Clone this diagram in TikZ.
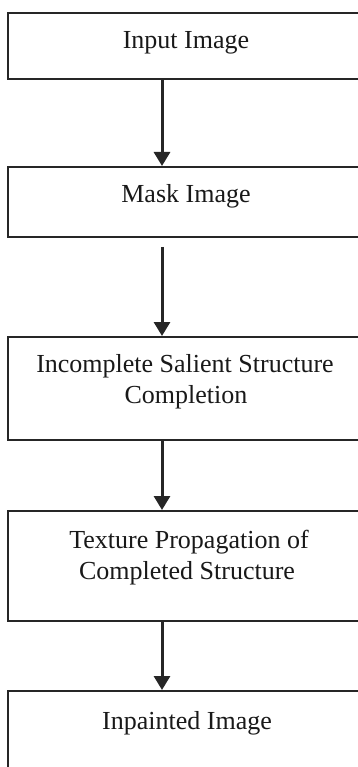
\documentclass[tikz,border=0pt]{standalone}
\usepackage{fontspec}
\setmainfont{Liberation Serif}
\usetikzlibrary{arrows.meta}
\begin{document}
\begin{tikzpicture}[x=1pt,y=1pt,
  box/.style={draw=black!85, line width=1.8pt, rectangle, inner sep=0pt, minimum width=356pt, anchor=north},
  lbl/.style={anchor=base, inner sep=0pt, font=\fontsize{26}{31}\selectfont, text=black!90},
  arr/.style={line width=3pt, draw=black!85, -{Triangle[width=16pt,length=14pt]}}]
\useasboundingbox (0,0) rectangle (358,-767);
\fill[white] (0,0) rectangle (358,-767);
\node[box, minimum height=66pt]  (b1) at (186,-12) {};
\node[box, minimum height=70pt]  (b2) at (186,-166) {};
\node[box, minimum height=103pt] (b3) at (186,-336) {};
\node[box, minimum height=110pt] (b4) at (186,-510) {};
\node[box, minimum height=130pt] (b5) at (186,-690) {};
\node[lbl] (t1) at (186,-49) {Input Image};
\node[lbl] (t2) at (186,-203) {Mask Image};
\node[lbl] (t3a) at (185,-372) {Incomplete Salient Structure};
\node[lbl] (t3b) at (186,-403) {Completion};
\node[lbl] (t4a) at (189,-548) {Texture Propagation of};
\node[lbl] (t4b) at (187,-579) {Completed Structure};
\node[lbl] (t5) at (187,-729) {Inpainted Image};
\draw[arr] ([xshift=-24pt]b1.south) -- ([xshift=-24pt]b2.north);
\draw[arr] ([xshift=-24pt,yshift=-9pt]b2.south) -- ([xshift=-24pt]b3.north);
\draw[arr] ([xshift=-24pt]b3.south) -- ([xshift=-24pt]b4.north);
\draw[arr] ([xshift=-24pt]b4.south) -- ([xshift=-24pt]b5.north);
\end{tikzpicture}
\end{document}
